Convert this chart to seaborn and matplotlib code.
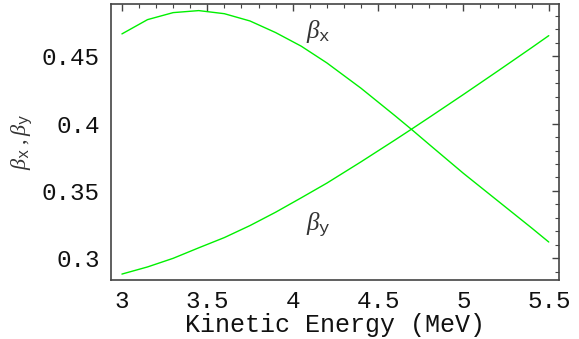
import matplotlib
matplotlib.use("Agg")
import matplotlib.pyplot as plt
import seaborn as sns
import pandas as pd
from matplotlib.ticker import MultipleLocator

energy = [3.0, 3.15, 3.3, 3.45, 3.6, 3.75, 3.9, 4.05, 4.2, 4.4, 4.6, 4.7, 4.8, 5.0, 5.2, 5.4, 5.5]
beta_x = [0.4666, 0.4772, 0.4824, 0.4839, 0.4816, 0.4762, 0.4676, 0.4575, 0.4451,
          0.4263, 0.4058, 0.3953, 0.3845, 0.3631, 0.3428, 0.3225, 0.3121]
beta_y = [0.2883, 0.2936, 0.3000, 0.3078, 0.3154, 0.3243, 0.3342, 0.3449, 0.3558,
          0.3716, 0.3879, 0.3962, 0.4046, 0.4216, 0.4389, 0.4564, 0.4653]
x_ticks = [3, 3.5, 4, 4.5, 5, 5.5]
x_tick_labels = ["3", "3.5", "4", "4.5", "5", "5.5"]
y_ticks = [0.3, 0.35, 0.4, 0.45]
y_tick_labels = ["0.3", "0.35", "0.4", "0.45"]

sns.set_theme(style="white")
plt.rcParams['font.family'] = ['Liberation Mono', 'DejaVu Sans']
plt.rcParams['mathtext.fontset'] = 'custom'
plt.rcParams['mathtext.rm'] = 'Liberation Serif'
plt.rcParams['mathtext.it'] = 'Liberation Serif:italic'
plt.rcParams['mathtext.tt'] = 'Liberation Mono'

df = pd.DataFrame({"E": energy + energy,
                   "beta": beta_x + beta_y,
                   "series": ["bx"] * len(energy) + ["by"] * len(energy)})

fig = plt.figure(figsize=(5.79, 3.39), dpi=100)
ax = fig.add_axes([111/579, 59/339, 448/579, 276/339])
sns.lineplot(data=df, x="E", y="beta", hue="series", palette=["#00f000", "#00f000"],
             linewidth=1.0, legend=False, ax=ax, estimator=None)

ax.set_xlim(2.936, 5.56)
ax.set_ylim(0.2839, 0.4888)
ax.xaxis.set_minor_locator(MultipleLocator(0.1))
ax.yaxis.set_minor_locator(MultipleLocator(0.01))
ax.set_xticks(x_ticks)
ax.set_xticklabels(x_tick_labels)
ax.set_yticks(y_ticks)
ax.set_yticklabels(y_tick_labels)
ax.tick_params(which="both", direction="in", top=True, right=True, colors="#444444",
               labelcolor="#111111", labelsize=17.5)
ax.tick_params(axis="x", which="major", pad=7)
ax.tick_params(axis="y", which="major", pad=8)
ax.tick_params(which="major", length=5, width=1)
ax.tick_params(which="minor", length=3, width=0.8)
for s in ax.spines.values():
    s.set_color("#444444")
    s.set_linewidth(1.2)

ax.set_xlabel("Kinetic Energy (MeV)", fontsize=18, labelpad=0, color="#111111")
ax.set_ylabel(r"$\beta_{\mathtt{x}}\;,\beta_{\mathtt{y}}$", fontsize=16, color="#333333", labelpad=6)

ax.text(4.08, 0.4635, r"$\beta_{\mathtt{x}}$", fontsize=18, color="#333333")
ax.text(4.08, 0.3210, r"$\beta_{\mathtt{y}}$", fontsize=18, color="#333333")

fig.savefig("out.png", dpi=100)
